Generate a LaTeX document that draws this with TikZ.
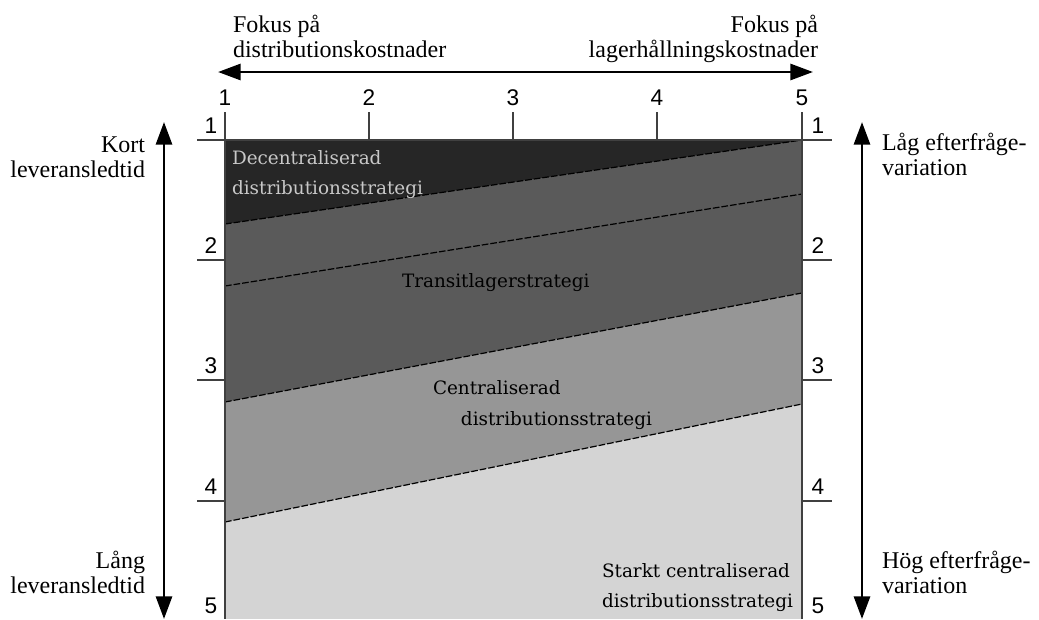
\documentclass[tikz,border=0pt]{standalone}
\usepackage{fontspec}
\setmainfont{Liberation Serif}
\newfontfamily\zonefont{DejaVu Serif}
\newfontfamily\digitfont{Liberation Sans}
\usepackage{tikz}
\usetikzlibrary{arrows.meta}
\definecolor{zonedark}{HTML}{262626}
\definecolor{zonemid}{HTML}{5A5A5A}
\definecolor{zonelight}{HTML}{969696}
\definecolor{zonepale}{HTML}{D4D4D4}
\definecolor{labelgrey}{HTML}{C8C8C8}
\definecolor{framegrey}{HTML}{404040}
\newcommand{\xL}{225}
\newcommand{\xR}{802}
\newcommand{\yT}{140}
\newcommand{\yB}{619}

\begin{document}
\begin{tikzpicture}[
    x=0.75pt, y=-0.75pt,
    every node/.style={inner sep=0pt, outer sep=0pt},
    outer/.style={font=\fontsize{18}{18.75}\selectfont},
    digit/.style={font=\digitfont\fontsize{17}{17}\selectfont},
    zone/.style={font=\zonefont\fontsize{13.8}{22.5}\selectfont, align=left},
    border/.style={dash pattern=on 5pt off 1.5pt, line width=0.9pt},
    frame/.style={framegrey, line width=1.2pt},
    bigarrow/.style={line width=2.2pt,
      {Triangle[length=17pt,width=12pt]}-{Triangle[length=17pt,width=12pt]}}
  ]
  \useasboundingbox (0,0) rectangle (1039,619);

  % --- zoner: ljusast underst, sedan lager ovanpa ------------------------
  \fill[zonepale]  (\xL,\yT) rectangle (\xR,\yB);
  \fill[zonelight] (\xL,\yT) -- (\xR,\yT) -- (\xR,404) -- (\xL,522) -- cycle;
  \fill[zonemid]   (\xL,\yT) -- (\xR,\yT) -- (\xR,293) -- (\xL,402) -- cycle;
  \fill[zonedark]  (\xL,\yT) -- (\xR,\yT) -- (\xL,224) -- cycle;

  % --- granser mellan strategierna ---------------------------------------
  \draw[border] (\xL,224) -- (\xR,\yT);
  \draw[border] (\xL,286) -- (\xR,194);
  \draw[border] (\xL,402) -- (\xR,293);
  \draw[border] (\xL,522) -- (\xR,404);

  % --- ram och skalor ----------------------------------------------------
  \draw[frame] (\xL,112) -- (\xL,\yB);
  \draw[frame] (\xR,112) -- (\xR,\yB);
  \draw[frame] (197,\yT) -- (832,\yT);
  \foreach \x/\n in {225/1, 369/2, 513/3, 657/4, 802/5}
    {\draw[frame] (\x,112) -- (\x,\yT);
     \node[digit, anchor=base] at (\x,105) {\n};}
  \foreach \y in {260, 380, 501}
    {\draw[frame] (197,\y) -- (\xL,\y);
     \draw[frame] (\xR,\y) -- (832,\y);}
  \foreach \y/\n in {140/1, 260/2, 380/3, 501/4, 620/5}
    {\node[digit, anchor=base] at (211,\y-7) {\n};
     \node[digit, anchor=base] at (818,\y-7) {\n};}

  % --- strategiernas namn (base = sista radens baslinje) -----------------
  \node[zone, text=labelgrey, anchor=base west] (decen) at (232,194) {Decentraliserad\\distributionsstrategi};
  \node[zone, anchor=base west] (transit) at (402,287) {Transitlagerstrategi};
  \node[zone, anchor=base west] (centA) at (433,394) {Centraliserad};
  \node[zone, anchor=base east] (centB) at (652,425) {distributionsstrategi};
  \node[zone, anchor=base west] (stark) at (602,607) {Starkt centraliserad\\distributionsstrategi};

  % --- pilar med ytterlagen ----------------------------------------------
  \coordinate (fokusL) at (218,72);
  \coordinate (fokusR) at (813,72);
  \coordinate (tidUpp) at (164,122);
  \coordinate (tidNed) at (164,619);
  \coordinate (varUpp) at (862,122);
  \coordinate (varNed) at (862,619);
  \draw[bigarrow] (fokusL) -- (fokusR);
  \draw[bigarrow] (tidUpp) -- (tidNed);
  \draw[bigarrow] (varUpp) -- (varNed);

  \node[outer, align=left, anchor=base west] (fokdist) at (233,57) {Fokus på\\distributionskostnader};
  \node[outer, align=right, anchor=base east] (foklager) at (818,57) {Fokus på\\lagerhållningskostnader};
  \node[outer, align=right, anchor=base east] (kort) at (145,177) {Kort\\leveransledtid};
  \node[outer, align=right, anchor=base east] (lang) at (145,593) {Lång\\leveransledtid};
  \node[outer, align=left, anchor=base west] (lagvar) at (882,175) {Låg efterfråge-\\variation};
  \node[outer, align=left, anchor=base west] (hogvar) at (882,593) {Hög efterfråge-\\variation};

\end{tikzpicture}
\end{document}
